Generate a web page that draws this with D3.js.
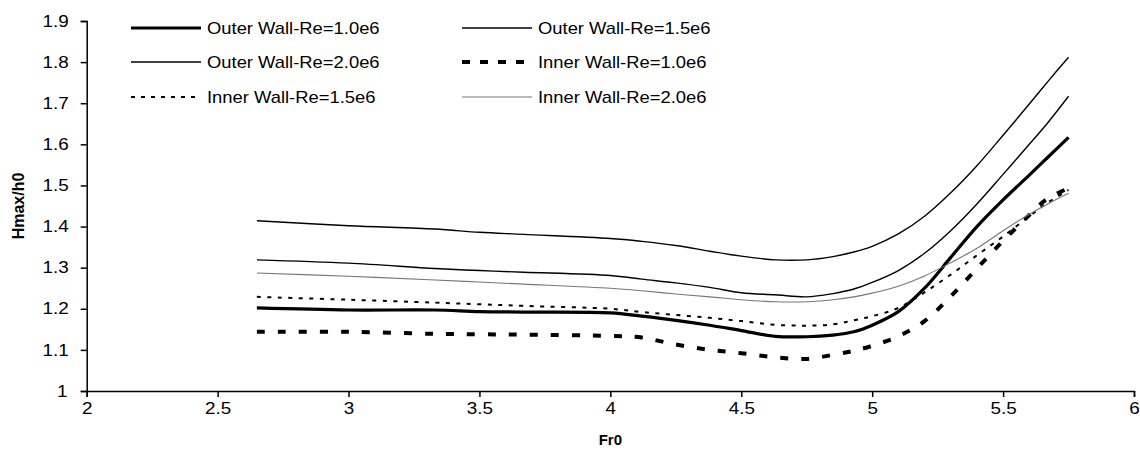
<!DOCTYPE html>
<html><head><meta charset="utf-8">
<script src="https://cdn.jsdelivr.net/npm/d3@7"></script>
<style>
body{margin:0;background:#fff;}
text{font-family:"Liberation Sans",Arial,sans-serif;}
</style></head>
<body><svg id="c" width="1140" height="450"></svg>
<script>
const fr0 = [2.65, 3.0, 3.33, 3.5, 3.67, 4.0, 4.12, 4.25, 4.38, 4.5, 4.63, 4.75, 4.85, 4.93, 5.0, 5.1, 5.2, 5.3, 5.4, 5.5, 5.6, 5.67, 5.75];
const outerRe10 = [1.202, 1.197, 1.197, 1.193, 1.192, 1.190, 1.182, 1.172, 1.160, 1.147, 1.133, 1.132, 1.136, 1.144, 1.160, 1.193, 1.250, 1.325, 1.400, 1.465, 1.525, 1.568, 1.617];
const outerRe15 = [1.319, 1.311, 1.298, 1.293, 1.289, 1.281, 1.272, 1.263, 1.252, 1.239, 1.234, 1.229, 1.237, 1.248, 1.264, 1.293, 1.335, 1.390, 1.455, 1.527, 1.600, 1.652, 1.717];
const outerRe20 = [1.414, 1.402, 1.394, 1.386, 1.381, 1.371, 1.364, 1.354, 1.340, 1.328, 1.319, 1.319, 1.327, 1.338, 1.352, 1.382, 1.425, 1.482, 1.548, 1.622, 1.698, 1.752, 1.812];
const innerRe10 = [1.144, 1.144, 1.139, 1.138, 1.137, 1.134, 1.130, 1.113, 1.100, 1.092, 1.082, 1.078, 1.088, 1.098, 1.110, 1.133, 1.170, 1.230, 1.298, 1.365, 1.428, 1.468, 1.493];
const innerRe15 = [1.229, 1.222, 1.215, 1.211, 1.207, 1.200, 1.192, 1.185, 1.178, 1.170, 1.161, 1.159, 1.162, 1.172, 1.182, 1.202, 1.240, 1.283, 1.330, 1.376, 1.425, 1.458, 1.489];
const innerRe20 = [1.287, 1.279, 1.270, 1.265, 1.260, 1.250, 1.244, 1.236, 1.229, 1.222, 1.217, 1.217, 1.222, 1.229, 1.238, 1.255, 1.280, 1.312, 1.347, 1.390, 1.430, 1.455, 1.481];
const seriesNames = ["Outer Wall-Re=1.0e6","Outer Wall-Re=1.5e6","Outer Wall-Re=2.0e6","Inner Wall-Re=1.0e6","Inner Wall-Re=1.5e6","Inner Wall-Re=2.0e6"];
const xTicks = [2, 2.5, 3, 3.5, 4, 4.5, 5, 5.5, 6];
const yTicks = [1, 1.1, 1.2, 1.3, 1.4, 1.5, 1.6, 1.7, 1.8, 1.9];
const xTitle = "Fr0", yTitle = "Hmax/h0";

const styles = [
  {w:3.2, dash:null, color:"#000"},
  {w:1.4, dash:null, color:"#000"},
  {w:1.4, dash:null, color:"#000"},
  {w:4, dash:"8,13", color:"#000", legDash:"8,10"},
  {w:2, dash:"4,6.5", color:"#000", legDash:"4,6"},
  {w:1.1, dash:null, color:"#777"}
];
const values = [outerRe10, outerRe15, outerRe20, innerRe10, innerRe15, innerRe20];

const svg = d3.select("#c");
const m = {l:86.7, r:6, t:21, b:59};
const W = 1140, H = 450;
const x = d3.scaleLinear().domain([2,6]).range([m.l, W-m.r]);
const y = d3.scaleLinear().domain([1,1.9]).range([H-m.b, m.t]);

const xa = svg.append("g").attr("transform",`translate(0,${H-m.b})`)
  .call(d3.axisBottom(x).tickValues(xTicks).tickFormat(d3.format("")).tickSize(6).tickSizeOuter(6).tickPadding(6));
const ya = svg.append("g").attr("transform",`translate(${m.l},0)`)
  .call(d3.axisLeft(y).tickValues(yTicks).tickFormat(d3.format("")).tickSize(6).tickSizeOuter(6).tickPadding(14));
[xa,ya].forEach(a=>{
  a.selectAll("path,line").attr("stroke","#000").attr("stroke-width",1.5);
  a.selectAll("text").attr("font-size",16).attr("fill","#000")
   .style("transform-box","fill-box").style("transform-origin","center").style("transform","scaleX(1.18)");
});

const line = d3.line().x((d,i)=>x(fr0[i])).y(d=>y(d)).curve(d3.curveCatmullRom.alpha(0.5));
values.forEach((v,k)=>{
  const s = styles[k];
  svg.append("path").datum(v).attr("d",line).attr("fill","none")
    .attr("stroke",s.color).attr("stroke-width",s.w)
    .attr("stroke-dasharray",s.dash).attr("stroke-linejoin","round");
});

// legend
const legCols = [131, 462], legRows = [28, 62, 97];
seriesNames.forEach((n,k)=>{
  const cx = legCols[k%2], cy = legRows[Math.floor(k/2)];
  const s = styles[k];
  svg.append("line").attr("x1",cx).attr("x2",cx+70).attr("y1",cy).attr("y2",cy)
    .attr("stroke",s.color).attr("stroke-width",s.w).attr("stroke-dasharray",s.legDash||null);
  svg.append("text").attr("x",cx+76).attr("y",cy).attr("dy","0.36em").attr("font-size",16).text(n)
    .style("transform-box","fill-box").style("transform-origin","left center").style("transform","scaleX(1.15)");
});

svg.append("text").attr("x",(m.l+W-m.r)/2).attr("y",445).attr("text-anchor","middle")
  .attr("font-size",15).attr("font-weight","bold").text(xTitle);
svg.append("text").attr("transform",`translate(24,${(m.t+H-m.b)/2}) rotate(-90)`).attr("text-anchor","middle")
  .attr("font-size",16).attr("font-weight","bold").text(yTitle);
</script></body></html>
